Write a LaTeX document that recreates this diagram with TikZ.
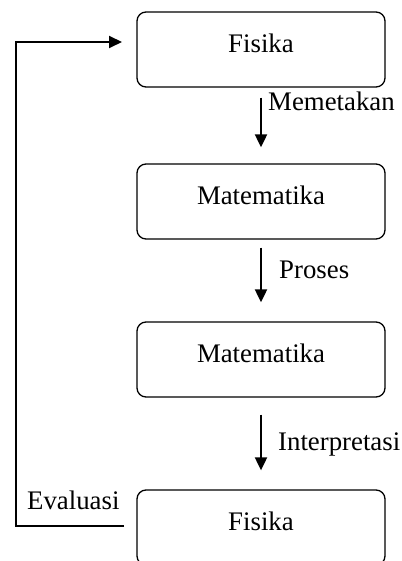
\documentclass[tikz,border=0pt]{standalone}
\usepackage{fontspec}
\setmainfont{Liberation Serif}
\usetikzlibrary{arrows.meta}
\begin{document}
\begin{tikzpicture}[x=1pt,y=-1pt,
  box/.style={draw,line width=1.3pt,rounded corners=9pt,minimum width=248pt,minimum height=75pt,
    inner sep=0pt,text height=17.7pt,text depth=11pt,font=\fontsize{26.8}{30}\selectfont},
  lbl/.style={anchor=base west,inner sep=0pt,font=\fontsize{26.8}{30}\selectfont},
  arr/.style={line width=2pt,-{Triangle[length=13pt,width=12pt]}}]
\useasboundingbox (0,0) rectangle (401,561);
\clip (0,0) rectangle (401,561);
\node[box] (b1) at (261,49.5) {Fisika};
\node[box] (b2) at (261,201.5) {Matematika};
\node[box] (b3) at (261,359.5) {Matematika};
\node[box] (b4) at (261,527.5) {Fisika};
\draw[arr] ([yshift=-10pt]b1.south) -- ([yshift=16pt]b2.north);
\draw[arr] ([yshift=-8pt]b2.south) -- ([yshift=19pt]b3.north);
\draw[arr] ([yshift=-17pt]b3.south) -- ([yshift=19pt]b4.north);
\node[lbl] (l1) at (268,111) {Memetakan};
\node[lbl] (l2) at (279,278) {Proses};
\node[lbl] (l3) at (278,450) {Interpretasi};
\node[lbl] (l4) at (27,509) {Evaluasi};
\coordinate (fs) at (124,526);
\coordinate (fe) at (122,42);
\draw[arr] (fs) -- (16,526) -- (16,42) -- (fe);
\end{tikzpicture}
\end{document}
